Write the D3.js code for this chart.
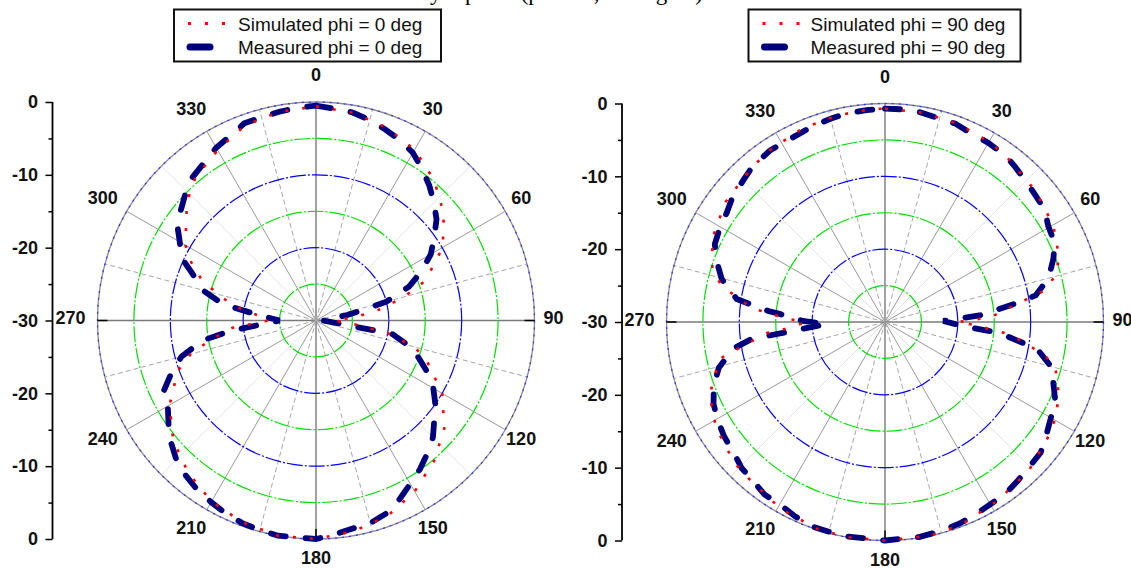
<!DOCTYPE html>
<html><head><meta charset="utf-8">
<script src="https://cdn.jsdelivr.net/npm/d3@7"></script>
<style>html,body{margin:0;padding:0;background:#fff;} svg{display:block;}</style>
</head><body>
<svg id="chart" width="1131" height="569"></svg>
<script>
// ---------- data ----------
const angleTicks = [0, 30, 60, 90, 120, 150, 180, 210, 240, 270, 300, 330];
const radialTicks = [0, -10, -20, -30];
const radialMinor = [-25, -15, -5];
const gridLevels = [-25, -20, -15, -10, -5];
const titleText = "y-z plane (phi = 0, 90 degree)";

// phi = 0 deg
const simAngles0 = [0,10,20,30,40,50,60,70,75,80,85,90,95,100,105,110,120,130,140,150,160,170,180,190,200,210,220,230,240,250,255,260,265,270,275,280,285,290,295,300,305,310,315,320,330,340,350];
const simValues0 = [-0.6,-1.0,-1.8,-2.9,-4.8,-7.1,-9.9,-14,-17.5,-21,-24.5,-27.5,-25,-20,-16,-13.8,-10,-7,-4.8,-2.9,-1.4,-0.6,0,0,-0.5,-1.3,-2.7,-4.4,-6.8,-9.8,-12.2,-15.5,-18.5,-23.5,-22,-18.6,-16,-13.2,-11.1,-9.3,-8.2,-6.8,-5.4,-4.3,-3.0,-1.5,-0.9];
const measAngles0 = [0,5,10,15,20,25,30,35,40,45,50,55,60,65,70,75,80,90,100,106,110,115,120,125,130,135,140,145,150,155,160,165,170,175,180,190,195,200,205,210,215,220,225,230,234,240,245,251,255,260,263,270,275,280,285,291,295,300,305,310,315,319,325,330,338,340,345,350,355];
const measValues0 = [-0.5,-0.8,-1.0,-1.5,-2.1,-2.7,-3.4,-4.6,-5.8,-7.1,-8.4,-10.2,-11.8,-14,-16.4,-20,-25.5,-29,-19.4,-16.3,-15,-13.1,-11.4,-10,-8.8,-7.3,-6.2,-5.1,-4.1,-2.9,-1.8,-1.2,-1.0,-0.5,0,0,-0.2,-0.4,-0.75,-1.2,-1.6,-2.2,-2.9,-4.0,-5.0,-6.5,-6.9,-9.2,-10.9,-14.2,-18.1,-25,-22.3,-17,-13.9,-11.75,-9.6,-8.4,-6.7,-5.9,-4.8,-4.05,-3.4,-2.6,-1.6,-1.2,-1.1,-0.9,-0.7];

// phi = 90 deg
const simAngles90 = [0,10,20,30,37,49,60,65,70,75,79,84,87,88.5,90,92,95.6,98.5,102,105,110,115,120,125,136,148,159,168,180,190,198,209,221,227,237.5,242.6,247.6,257.4,264.7,266,268,270,272,276,282.5,287,292,297,302,307,319,326,337,347,356];
const simValues90 = [-0.7,-0.8,-1.0,-1.4,-1.9,-2.6,-3.35,-4.0,-4.6,-5.8,-8,-13.2,-15.3,-17.6,-20,-17.6,-13,-10.5,-7.5,-5.8,-4.7,-3.8,-3.1,-2.6,-1.6,-1.0,-0.3,0,0,0,-0.1,-0.6,-1.5,-1.7,-2.6,-3.3,-4.0,-6.7,-13.7,-16.2,-18,-19,-16.5,-11.6,-7.0,-5.2,-4.4,-3.6,-3.2,-2.6,-2.0,-1.6,-1.1,-0.9,-0.7];
const measAngles90 = [0,5,9.5,15,19.5,24,30,36,40,45,50,55,59.5,65,69.4,75,80,82,86,89,93,95,96,100,105.4,110,115.7,120,125.3,130,135.6,140,145,150,155,159.5,164.7,171,180,189.8,195,199.7,204.9,210,214.9,220.3,224.4,229.7,234.7,239.8,244.4,249.5,254.5,260,262.7,268,270.7,274.4,275.4,278.8,284.8,290,294.6,299.7,304.6,309,314.8,319.2,326,330,335.7,339.8,345.4,349.6,355];
const measValues90 = [-0.7,-0.7,-0.8,-1.1,-1.1,-1.5,-1.6,-1.8,-2.2,-2.65,-3.0,-3.2,-4.0,-4.3,-5.3,-6.75,-9.0,-12,-17,-22,-19.3,-15.5,-13.8,-8.8,-6.2,-5.4,-4.0,-3.7,-2.9,-2.1,-1.9,-1.6,-1.2,-1.1,-0.8,-0.5,-0.3,-0.1,0,-0.1,-0.2,-0.2,-0.6,-1.1,-1.1,-1.7,-1.9,-2.6,-2.9,-3.4,-3.9,-4.9,-6.3,-8.8,-11.5,-22,-18.7,-15.5,-13.9,-9.4,-6.8,-5.4,-4.3,-3.9,-3.6,-3.0,-2.5,-2.0,-1.65,-1.7,-1.6,-1.3,-1.1,-0.9,-0.8];

const simLabels = ["Simulated phi = 0 deg", "Simulated phi = 90 deg"];
const measLabels = ["Measured phi = 0 deg", "Measured phi = 90 deg"];

// ---------- drawing ----------
const svg = d3.select("#chart");
svg.append("rect").attr("width", 1131).attr("height", 569).attr("fill", "#fff");

const NUM_FONT = "'Liberation Sans', Arial, sans-serif";

svg.append("text").attr("x", 430).attr("y", -0.5)
  .attr("font-family", "'Liberation Serif', 'Times New Roman', serif")
  .attr("font-size", 23).attr("fill", "#000").text(titleText);

const R = 218.5;
const plots = [
  {cx: 316, cy: 320.5, axisX: 52.5, simA: simAngles0, simV: simValues0, measA: measAngles0, measV: measValues0,
   leg: {x: 174, y: 9.5, w: 267, h: 52, textDx: 64}, simLabel: simLabels[0], measLabel: measLabels[0]},
  {cx: 885, cy: 322, axisX: 622, simA: simAngles90, simV: simValues90, measA: measAngles90, measV: measValues90,
   leg: {x: 748.5, y: 9.5, w: 272, h: 52, textDx: 62}, simLabel: simLabels[1], measLabel: measLabels[1]}
];

plots.forEach(p => {
  const r = d3.scaleLinear().domain([-30, 0]).range([0, R]);
  const g = svg.append("g").attr("transform", `translate(${p.cx},${p.cy})`);

  // spokes every 15 degrees
  d3.range(0, 360, 15).forEach(a => {
    const t = a * Math.PI / 180;
    const x2 = R * Math.sin(t), y2 = -R * Math.cos(t);
    let stroke = "#9a9a9a", w = 1, dash = null;
    if (a % 90 === 0) { stroke = "#7a7a7a"; w = 1.4; }
    else if (a % 30 === 0) { stroke = "#999"; w = 1; }
    else if (a % 45 === 0) { stroke = "#e2e2e2"; w = 1; }
    else { stroke = "#a8a8a8"; w = 1; dash = "5,3"; }
    g.append("line").attr("x1", 0).attr("y1", 0).attr("x2", x2).attr("y2", y2)
      .attr("stroke", stroke).attr("stroke-width", w).attr("stroke-dasharray", dash);
  });

  // grid circles
  gridLevels.forEach((lv, i) => {
    g.append("circle").attr("r", r(lv)).attr("fill", "none")
      .attr("stroke", i % 2 === 0 ? "#00e000" : "#0000ff")
      .attr("stroke-width", 1.2)
      .attr("stroke-dasharray", "16,2,2,2");
  });
  // outer circle
  g.append("circle").attr("r", r(0)).attr("fill", "none").attr("stroke", "#8a8a9a").attr("stroke-width", 1.3);
  g.append("circle").attr("r", r(0)).attr("fill", "none").attr("stroke", "#3030ff").attr("stroke-width", 1.2)
    .attr("stroke-dasharray", "2,5");

  // black ends on axes
  [90, 180, 270].forEach(a => {
    const t = a * Math.PI / 180;
    g.append("line")
      .attr("x1", (R - 10) * Math.sin(t)).attr("y1", -(R - 10) * Math.cos(t))
      .attr("x2", R * Math.sin(t)).attr("y2", -R * Math.cos(t))
      .attr("stroke", "#000").attr("stroke-width", 1.5);
  });

  // data lines
  const line = d3.lineRadial()
    .angle(d => d[0] * Math.PI / 180)
    .radius(d => r(d[1]))
    .curve(d3.curveLinearClosed);
  const meas = p.measA.map((a, i) => [a, p.measV[i]]);
  const sim = p.simA.map((a, i) => [a, p.simV[i]]);
  g.append("path").attr("d", line(meas)).attr("fill", "none")
    .attr("stroke", "#00007f").attr("stroke-width", 5.8)
    .attr("stroke-linecap", "round").attr("stroke-dasharray", "15,20");
  g.append("path").attr("d", line(sim)).attr("fill", "none")
    .attr("stroke", "#ff0000").attr("stroke-width", 2.6)
    .attr("stroke-dasharray", "3,14");

  // angle labels
  angleTicks.forEach(a => {
    const t = a * Math.PI / 180;
    const vertical = (a % 180 === 0);
    const sx = vertical ? 0 : -4;
    const sy = vertical ? -4 : -2.5;
    g.append("text").attr("x", 241.5 * Math.sin(t) + sx).attr("y", -241.5 * Math.cos(t) + sy)
      .attr("dy", "0.36em").attr("text-anchor", "middle")
      .attr("font-family", NUM_FONT).attr("font-weight", "bold").attr("font-size", 18)
      .attr("fill", "#111").text(a);
  });

  // left radial axis (mirrored)
  const yUp = d3.scaleLinear().domain([-30, 0]).range([p.cy, p.cy - R]);
  const yDn = d3.scaleLinear().domain([-30, 0]).range([p.cy, p.cy + R]);
  const ax = svg.append("g").attr("transform", `translate(${p.axisX},0)`);
  const styleAxis = sel => {
    sel.selectAll("path.domain").remove();
    sel.selectAll("line").attr("stroke", "#000").attr("stroke-width", 1.5);
    sel.selectAll("text").attr("font-family", NUM_FONT).attr("font-weight", "bold")
      .attr("font-size", 18).attr("fill", "#111");
  };
  ax.append("g").call(d3.axisLeft(yUp).tickValues(radialTicks).tickSize(7).tickPadding(7.5)
    .tickFormat(d => String(d))).call(styleAxis);
  ax.append("g").call(d3.axisLeft(yDn).tickValues(radialTicks.filter(v => v !== -30)).tickSize(7).tickPadding(7.5)
    .tickFormat(d => String(d))).call(styleAxis);
  ax.append("g").call(d3.axisLeft(yUp).tickValues(radialMinor).tickSize(4).tickFormat("")).call(styleAxis);
  ax.append("g").call(d3.axisLeft(yDn).tickValues(radialMinor).tickSize(4).tickFormat("")).call(styleAxis);
  ax.append("line").attr("x1", 0).attr("x2", 0).attr("y1", yUp(0)).attr("y2", yDn(0))
    .attr("stroke", "#000").attr("stroke-width", 1.8);

  // legend
  const L = p.leg;
  const lg = svg.append("g");
  lg.append("rect").attr("x", L.x).attr("y", L.y).attr("width", L.w).attr("height", L.h)
    .attr("fill", "#fff").attr("stroke", "#111").attr("stroke-width", 2);
  const row1 = L.y + 14, row2 = L.y + 37.5;
  lg.append("line").attr("x1", L.x + 14).attr("x2", L.x + 52).attr("y1", row1).attr("y2", row1)
    .attr("stroke", "#ff0000").attr("stroke-width", 3).attr("stroke-dasharray", "3,14");
  lg.append("line").attr("x1", L.x + 16).attr("x2", L.x + 36).attr("y1", row2).attr("y2", row2)
    .attr("stroke", "#00007f").attr("stroke-width", 7).attr("stroke-linecap", "round");
  lg.append("text").attr("x", L.x + L.textDx).attr("y", row1 + 7)
    .attr("font-family", NUM_FONT).attr("font-size", 19).attr("fill", "#111").text(p.simLabel);
  lg.append("text").attr("x", L.x + L.textDx).attr("y", row2 + 7)
    .attr("font-family", NUM_FONT).attr("font-size", 19).attr("fill", "#111").text(p.measLabel);
});
</script>
</body></html>
